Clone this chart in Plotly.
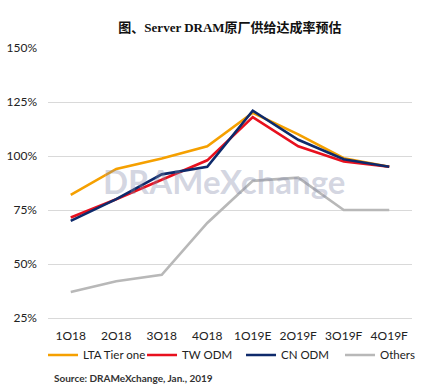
import plotly.graph_objects as go

categories = ["1Q18", "2Q18", "3Q18", "4Q18", "1Q19E", "2Q19F", "3Q19F", "4Q19F"]
lta_tier_one = [82, 94, 98.8, 104.5, 120, 110, 99, 95]
tw_odm = [71.5, 80, 89, 98, 118, 104.5, 97.5, 95]
cn_odm = [70, 80, 91.5, 95, 121, 107.5, 98.5, 95]
others = [37, 42, 45, 69, 88.5, 90, 75, 75]
y_ticks = [25, 50, 75, 100, 125, 150]
y_tick_labels = ["25%", "50%", "75%", "100%", "125%", "150%"]

series = [
    ("LTA Tier one", lta_tier_one, "#F5A000"),
    ("TW ODM", tw_odm, "#E8101E"),
    ("CN ODM", cn_odm, "#0E2A6B"),
    ("Others", others, "#B8B8B8"),
]
draw_order = [3, 0, 1, 2]

fig = go.Figure()
for i in draw_order:
    name, vals, col = series[i]
    fig.add_trace(go.Scatter(x=categories, y=vals, name=name, mode="lines",
                             line=dict(color=col, width=2.6), legendrank=i + 1))

fig.add_annotation(text="<b>DRAMeXchange</b>", x=0.5, y=0.5, xref="paper", yref="paper",
                   showarrow=False, font=dict(family="Lato", size=33, color="rgba(130,138,170,0.35)"),
                   xanchor="center", yanchor="middle", yshift=2, xshift=-6)

fig.update_layout(
    width=430, height=392,
    margin=dict(l=48, r=18, t=48, b=74, autoexpand=False),
    paper_bgcolor="white", plot_bgcolor="white",
    title=dict(text="<b>图、Server DRAM原厂供给达成率预估</b>", x=0.5, xanchor="center",
               xref="paper", yref="container", y=0.93, yanchor="middle",
               font=dict(family="Liberation Serif, Noto Sans CJK SC", size=13, color="#111")),
    font=dict(family="Lato", size=12, color="#222"),
    showlegend=True,
    legend=dict(orientation="h", x=-0.0137, xanchor="left", y=-0.137, yanchor="middle",
                font=dict(family="Lato", size=11.5, color="#222"), traceorder="normal",
                itemwidth=30, entrywidth=54, entrywidthmode="pixels", tracegroupgap=0),
    xaxis=dict(type="category", range=[-0.5, len(categories) - 0.5], showgrid=False,
               showline=True, linecolor="#D9D9D9",
               ticks="", tickfont=dict(size=12), ticklabelstandoff=7),
    yaxis=dict(range=[25, 150], tickvals=y_ticks, ticktext=y_tick_labels,
               showgrid=True, gridcolor="#D9D9D9", zeroline=False, showline=False,
               ticks="", tickfont=dict(size=12), ticklabelstandoff=10),
)
fig.add_annotation(text="<b>Source: DRAMeXchange, Jan., 2019</b>", x=(52 - 48) / 364,
                   y=(318 - 378) / 270, xref="paper", yref="paper", showarrow=False,
                   font=dict(family="Lato", size=10, color="#333"),
                   xanchor="left", yanchor="middle")
fig.write_html("out.html", config={"displayModeBar": False},
               post_script="document.body.style.margin='0';")
